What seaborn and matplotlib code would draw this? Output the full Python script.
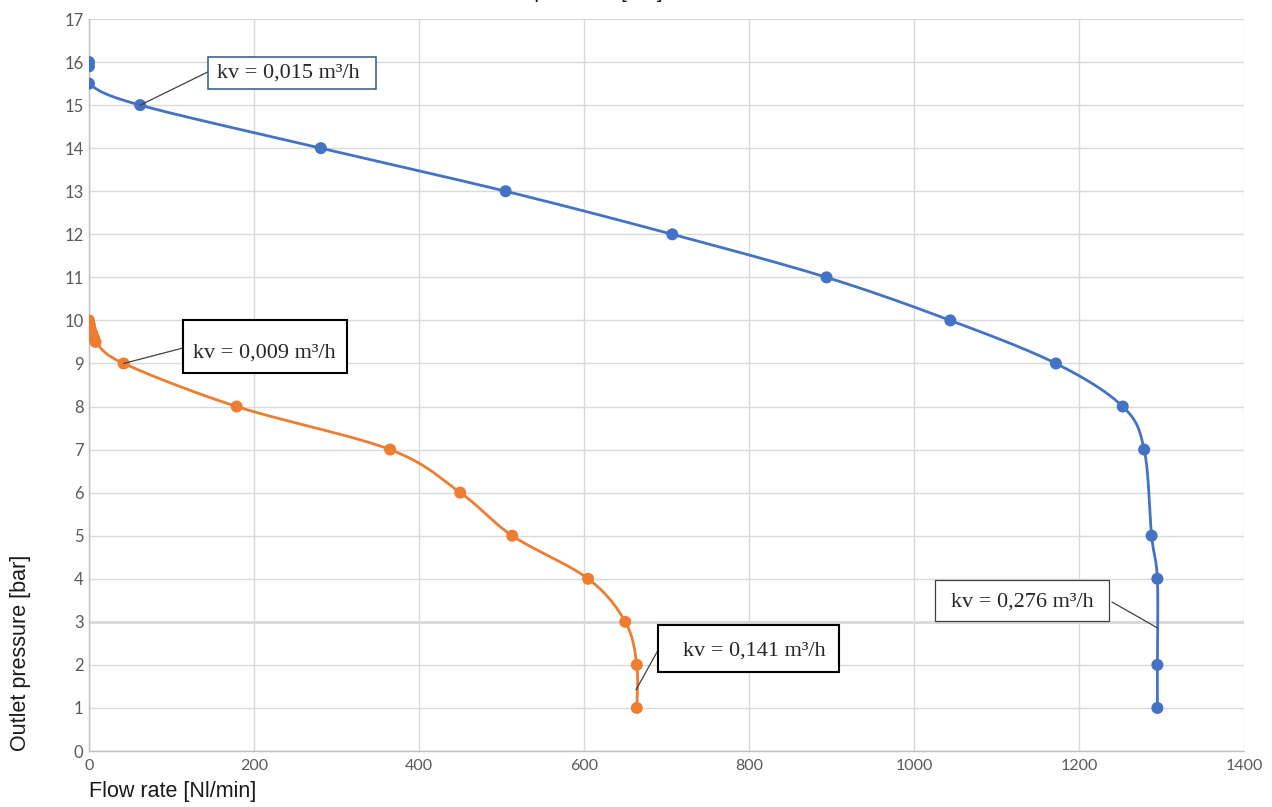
import numpy as np
import matplotlib
matplotlib.use("Agg")
import matplotlib.pyplot as plt
from matplotlib.patches import Rectangle
import seaborn as sns

# data
blue_flow = [0, 0, 0, 62, 281, 505, 707, 894, 1044, 1172, 1253, 1279, 1288, 1295, 1295, 1295]
blue_pressure = [16.0, 15.9, 15.5, 15, 14, 13, 12, 11, 10, 9, 8, 7, 5, 4, 2, 1]

orange_flow = [0, 1, 2, 4, 6, 8, 42, 179, 365, 450, 513, 605, 650, 664, 664]
orange_pressure = [10, 9.9, 9.8, 9.7, 9.6, 9.5, 9, 8, 7, 6, 5, 4, 3, 2, 1]

labels = ["kv = 0,015 m³/h", "kv = 0,009 m³/h", "kv = 0,141 m³/h", "kv = 0,276 m³/h"]

BLUE = "#4472C4"
ORANGE = "#ED7D31"
XMAX, YMAX = 1400, 17


def smooth(xs, ys, n=24):
    # Excel-like smoothed line (bezier through the points), done in screen-ish units
    sx, sy = 1155 / XMAX, 732 / YMAX
    pts = np.column_stack([np.asarray(xs) * sx, np.asarray(ys) * sy])
    out = [pts[0]]
    for i in range(len(pts) - 1):
        p0 = pts[i - 1] if i > 0 else pts[i]
        p1, p2 = pts[i], pts[i + 1]
        p3 = pts[i + 2] if i + 2 < len(pts) else pts[i + 1]
        c1 = p1 + (p2 - p0) / 6
        c2 = p2 - (p3 - p1) / 6
        t = np.linspace(0, 1, n)[1:, None]
        seg = (1 - t) ** 3 * p1 + 3 * (1 - t) ** 2 * t * c1 + 3 * (1 - t) * t ** 2 * c2 + t ** 3 * p2
        out.extend(seg)
    out = np.array(out)
    return out[:, 0] / sx, out[:, 1] / sy


sns.set_style("white")
plt.rcParams["font.family"] = ["Lato", "DejaVu Sans"]

fig = plt.figure(figsize=(12.72, 8.07), dpi=100)
ax = fig.add_axes([89 / 1272, 56 / 807, 1155 / 1272, 732 / 807])

# smoothed lines
bx, by = smooth(blue_flow, blue_pressure)
ox, oy = smooth(orange_flow, orange_pressure)
sns.lineplot(x=bx, y=by, sort=False, estimator=None, color=BLUE, lw=2.0, ax=ax)
sns.lineplot(x=ox, y=oy, sort=False, estimator=None, color=ORANGE, lw=2.0, ax=ax)

# markers
sns.scatterplot(x=blue_flow, y=blue_pressure, color=BLUE, s=75, edgecolor="none", zorder=3, ax=ax)
sns.scatterplot(x=orange_flow, y=orange_pressure, color=ORANGE, s=75, edgecolor="none", zorder=3, ax=ax)

ax.set_xlim(0, XMAX)
ax.set_ylim(0, YMAX)
ax.set_xticks(np.arange(0, 1401, 200))
ax.set_yticks(np.arange(0, 18, 1))
ax.grid(True, color="#D9D9D9", lw=1.0)
ax.axhline(3, color="#D0D0D0", lw=1.8, zorder=0)
ax.set_axisbelow(True)
for side in ["top", "right"]:
    ax.spines[side].set_visible(False)
for side in ["left", "bottom"]:
    ax.spines[side].set_color("#BFBFBF")
    ax.spines[side].set_linewidth(1.0)
ax.tick_params(axis="x", length=0, pad=6, labelsize=11.5, labelcolor="#595959")
ax.tick_params(axis="y", length=0, pad=4, labelsize=12, labelcolor="#595959")

ax.set_xlabel("Flow rate [Nl/min]", fontsize=15.5, family="Liberation Sans", color="#1a1a1a")
ax.set_ylabel("Outlet pressure [bar]", fontsize=15.5, family="Liberation Sans", color="#1a1a1a")
ax.xaxis.label.set_horizontalalignment("left")
ax.xaxis.set_label_coords(0.0, -0.041)
ax.yaxis.label.set_horizontalalignment("left")
ax.yaxis.set_label_coords(-0.05, 0.0)

# clipped title at the very top of the image
fig.text(663 / 1272, 1.0 + 2 / 807, "Inlet pressure [bar]", ha="right", va="baseline",
         fontsize=15, family="Liberation Sans", color="#1a1a1a")

# kv annotations: box (x0, x1, y0, y1), text centre, leader start, leader end
notes = [
    (labels[0], (144, 348, 15.37, 16.12), (241, 15.75), (144, 15.77), (62, 15), "#2F5597", 1.1),
    (labels[1], (114, 313, 8.78, 10.01), (213, 9.24), (114, 9.36), (42, 9), "black", 1.5),
    (labels[2], (690, 909, 1.83, 2.92), (807, 2.33), (690, 2.35), (663, 1.42), "black", 1.5),
    (labels[3], (1025, 1236, 3.03, 3.96), (1131, 3.46), (1240, 3.46), (1295, 2.86), "#404040", 0.9),
]
for txt, (x0, x1, y0, y1), (tx, ty), p0, p1, ec, lw in notes:
    ax.plot([p0[0], p1[0]], [p0[1], p1[1]], color="#404040", lw=0.9, zorder=4)
    ax.add_patch(Rectangle((x0, y0), x1 - x0, y1 - y0, fc="white", ec=ec, lw=lw, zorder=5))
    ax.text(tx, ty, txt, ha="center", va="center", fontsize=16,
            family="Liberation Serif", color="#262626", zorder=6)

fig.savefig("out.png", dpi=100)
